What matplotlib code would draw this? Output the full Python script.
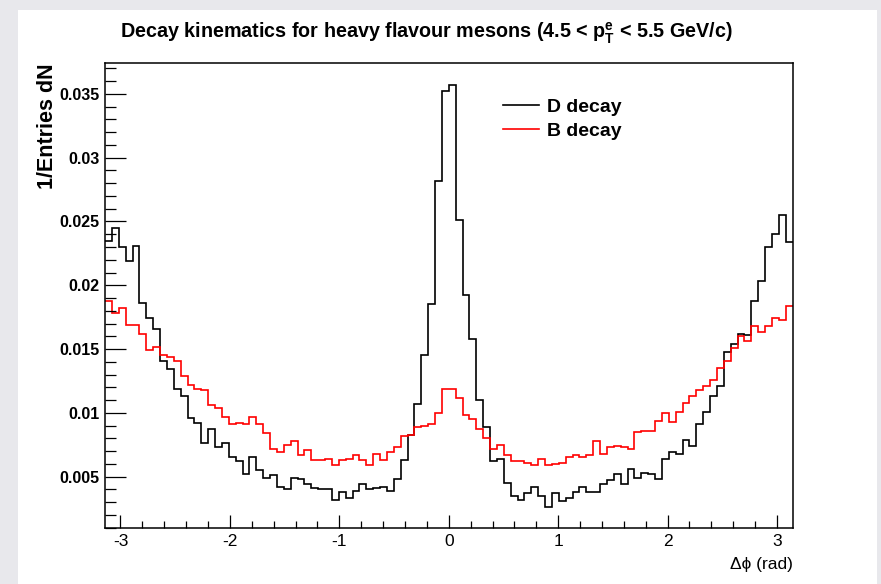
import numpy as np
import matplotlib
matplotlib.use("Agg")
import matplotlib.pyplot as plt
from matplotlib.patches import Rectangle
from matplotlib.ticker import MultipleLocator, FormatStrFormatter

plt.rcParams['font.family'] = ['Liberation Sans', 'DejaVu Sans']
plt.rcParams['mathtext.fontset'] = 'custom'
plt.rcParams['mathtext.rm'] = 'Liberation Sans'
plt.rcParams['mathtext.bf'] = 'Liberation Sans:bold'
plt.rcParams['axes.unicode_minus'] = False

# 100 bins in delta phi from -pi to pi, normalised to entries
n_bins = 100
d_decay = [0.0235, 0.0245, 0.0230, 0.0219, 0.0231, 0.0186, 0.0174, 0.0166, 0.0141, 0.0134,
           0.0119, 0.0113, 0.0096, 0.0092, 0.0076, 0.0087, 0.0073, 0.0076, 0.0065, 0.0062,
           0.0052, 0.0065, 0.0055, 0.0049, 0.0051, 0.0042, 0.0040, 0.0049, 0.0048, 0.0044,
           0.0041, 0.0040, 0.0040, 0.0032, 0.0038, 0.0033, 0.0039, 0.0044, 0.0040, 0.0041,
           0.0042, 0.0039, 0.0048, 0.0063, 0.0083, 0.0107, 0.0145, 0.0185, 0.0282, 0.0352,
           0.0357, 0.0251, 0.0192, 0.0158, 0.0110, 0.0089, 0.0062, 0.0064, 0.0045, 0.0035,
           0.0032, 0.0037, 0.0042, 0.0035, 0.0026, 0.0037, 0.0031, 0.0033, 0.0038, 0.0042,
           0.0038, 0.0038, 0.0044, 0.0047, 0.0052, 0.0044, 0.0056, 0.0049, 0.0053, 0.0052,
           0.0048, 0.0064, 0.0069, 0.0068, 0.0079, 0.0074, 0.0091, 0.0101, 0.0113, 0.0121,
           0.0148, 0.0154, 0.0162, 0.0161, 0.0188, 0.0203, 0.0230, 0.0240, 0.0255, 0.0234]
b_decay = [0.0188, 0.0178, 0.0182, 0.0169, 0.0169, 0.0162, 0.0149, 0.0152, 0.0145, 0.0144,
           0.0141, 0.0129, 0.0122, 0.0119, 0.0118, 0.0106, 0.0104, 0.0097, 0.0091, 0.0092,
           0.0091, 0.0097, 0.0091, 0.0084, 0.0072, 0.0069, 0.0075, 0.0078, 0.0067, 0.0071,
           0.0063, 0.0063, 0.0064, 0.0059, 0.0063, 0.0064, 0.0067, 0.0063, 0.0059, 0.0068,
           0.0063, 0.0069, 0.0073, 0.0082, 0.0083, 0.0089, 0.0090, 0.0091, 0.0100, 0.0119,
           0.0119, 0.0112, 0.0098, 0.0095, 0.0087, 0.0080, 0.0072, 0.0075, 0.0067, 0.0062,
           0.0062, 0.0061, 0.0059, 0.0064, 0.0059, 0.0060, 0.0061, 0.0065, 0.0067, 0.0065,
           0.0067, 0.0078, 0.0068, 0.0073, 0.0074, 0.0073, 0.0072, 0.0085, 0.0086, 0.0086,
           0.0094, 0.0100, 0.0093, 0.0101, 0.0108, 0.0113, 0.0118, 0.0121, 0.0126, 0.0135,
           0.0141, 0.0151, 0.0160, 0.0156, 0.0168, 0.0163, 0.0168, 0.0174, 0.0173, 0.0184]
series_labels = ['D decay', 'B decay']

edges = np.linspace(-np.pi, np.pi, n_bins + 1)

fig = plt.figure(figsize=(8.81, 5.84), dpi=100)
fig.patch.set_facecolor('#e8e8ec')
fig.patches.append(Rectangle((18 / 881, 0), 859 / 881, 574 / 584, transform=fig.transFigure,
                             facecolor='white', edgecolor='none', zorder=-10))

ax = fig.add_axes([105 / 881, 1 - 528.3 / 584, 687.5 / 881, 465 / 584])
ax.stairs(d_decay, edges, baseline=None, color='black', lw=1.2, label=series_labels[0])
ax.stairs(b_decay, edges, baseline=None, color='#ff0000', lw=1.2, label=series_labels[1])

ax.set_xlim(-np.pi, np.pi)
ax.set_ylim(0.00095, 0.0374)

ax.xaxis.set_major_locator(MultipleLocator(1))
ax.xaxis.set_minor_locator(MultipleLocator(0.2))
ax.yaxis.set_major_locator(MultipleLocator(0.005))
ax.yaxis.set_minor_locator(MultipleLocator(0.001))
ax.yaxis.set_major_formatter(FormatStrFormatter('%g'))
ax.xaxis.set_major_formatter(FormatStrFormatter('%g'))

ax.tick_params(axis='y', which='major', direction='in', length=15, width=0.9, labelsize=11.5, pad=4)
ax.tick_params(axis='y', which='minor', direction='in', length=8, width=0.9)
ax.tick_params(axis='x', which='major', direction='in', length=9.5, width=0.9, labelsize=12.5, pad=4)
ax.tick_params(axis='x', which='minor', direction='in', length=4.7, width=0.9)
for lab in ax.get_yticklabels():
    lab.set_fontweight('bold')
for s in ax.spines.values():
    s.set_linewidth(1.1)

ax.set_ylabel('1/Entries dN', loc='top', fontsize=15.5, fontweight='bold')
ax.yaxis.set_label_coords(-0.068, 1.0)
ax.set_xlabel('Δϕ (rad)', loc='right', fontsize=12.5)
ax.xaxis.set_label_coords(1.0, -0.062)

fig.text(426 / 881, 1 - 33 / 584,
         r'Decay kinematics for heavy flavour mesons (4.5 < $\mathbf{p_T^e}$ < 5.5 GeV/c)',
         ha='center', va='center', fontsize=14.2, fontweight='bold')

ax.legend(loc='upper left', bbox_to_anchor=(485 / 881, 1 - 81 / 584), bbox_transform=fig.transFigure,
          frameon=False, prop={'weight': 'bold', 'size': 14},
          handlelength=1.9, handletextpad=0.4, labelspacing=0.33)

fig.savefig('out.png', dpi=100, facecolor=fig.get_facecolor())
